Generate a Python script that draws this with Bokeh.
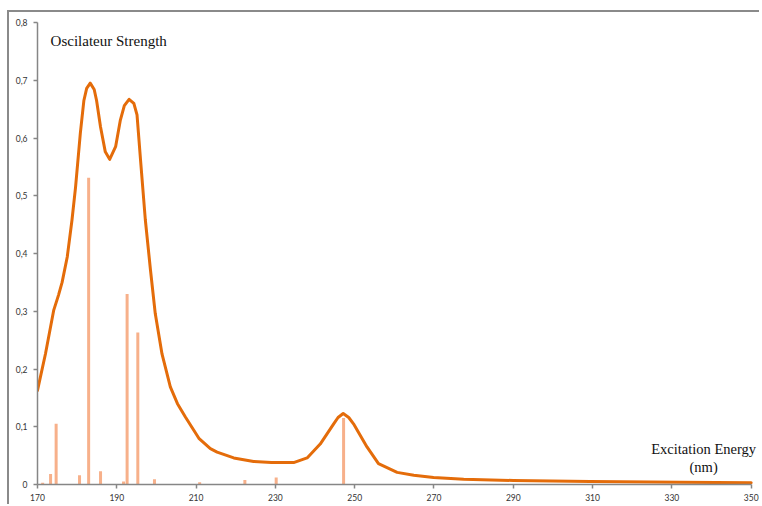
from bokeh.plotting import figure
from bokeh.models import FixedTicker, CustomJSTickFormatter, Label, ColumnDataSource, Range1d
from bokeh.embed import file_html
from bokeh.resources import INLINE

# Envelope curve (wavelength nm, oscillator strength)
curve_nm = [170.0, 172.0, 174.1, 175.3, 176.2, 177.5, 178.7, 179.6, 180.8, 181.7, 182.4,
            183.3, 184.3, 184.9, 185.9, 187.1, 188.2, 189.7, 190.9, 191.9, 193.1,
            194.3, 195.1, 196.0, 197.2, 198.5, 199.7, 201.4, 203.5, 205.3, 207.3,
            210.7, 213.6, 215.3, 219.5, 224.5, 229.0, 232.2, 234.6, 238.0, 241.3,
            244.7, 245.8, 247.1, 248.5, 249.7, 253.1, 256.0, 260.7, 264.9, 269.9,
            277.5, 290.0, 309.4, 332.0, 350.0]
curve_f = [0.163, 0.226, 0.302, 0.328, 0.350, 0.394, 0.458, 0.515, 0.608, 0.665, 0.686,
           0.695, 0.684, 0.665, 0.619, 0.576, 0.563, 0.585, 0.631, 0.656, 0.667,
           0.660, 0.640, 0.561, 0.458, 0.371, 0.296, 0.226, 0.169, 0.140, 0.117,
           0.080, 0.062, 0.056, 0.046, 0.040, 0.038, 0.038, 0.038, 0.046, 0.070,
           0.105, 0.116, 0.123, 0.116, 0.105, 0.065, 0.036, 0.021, 0.016, 0.012,
           0.009, 0.007, 0.005, 0.004, 0.003]

# Individual transitions (sticks)
stick_nm = [171.3, 173.3, 174.7, 180.6, 182.9, 185.9, 191.7, 192.6, 195.3, 199.5,
            210.9, 222.3, 230.2, 247.2]
stick_f = [0.003, 0.018, 0.105, 0.016, 0.531, 0.023, 0.005, 0.330, 0.263, 0.009,
           0.004, 0.008, 0.012, 0.115]

x_ticks = [170, 190, 210, 230, 250, 270, 290, 310, 330, 350]
y_ticks = [0, 0.1, 0.2, 0.3, 0.4, 0.5, 0.6, 0.7, 0.8]

title_text = "Oscilateur Strength"
xlabel_line1 = "Excitation Energy"
xlabel_line2 = "(nm)"

p = figure(width=752, height=494, output_backend="svg", toolbar_location=None,
           x_range=Range1d(170, 352.6), y_range=Range1d(0, 0.8),
           min_border_left=28, min_border_right=0, min_border_top=10, min_border_bottom=22)
p.styles = {"margin-top": "10px", "margin-left": "7px",
            "border-top": "2px solid #8a8a8a", "border-left": "2px solid #8a8a8a"}

p.outline_line_color = None
p.background_fill_color = "white"
p.border_fill_color = "white"
p.xgrid.visible = False
p.ygrid.visible = False

stick_src = ColumnDataSource(dict(x=stick_nm, y0=[0] * len(stick_nm), y1=stick_f))
p.segment(x0="x", y0="y0", x1="x", y1="y1", source=stick_src,
          line_color="#F7B08A", line_width=3, line_cap="butt")

curve_src = ColumnDataSource(dict(x=curve_nm, y=curve_f))
p.line(x="x", y="y", source=curve_src, line_color="#E46C0A", line_width=3,
       line_join="round", line_cap="round")

for ax in (p.xaxis[0], p.yaxis[0]):
    ax.axis_line_color = "#868686"
    ax.axis_line_width = 1.5
    ax.major_tick_line_color = "#868686"
    ax.major_tick_line_width = 1.5
    ax.major_tick_in = 0
    ax.major_tick_out = 4
    ax.minor_tick_line_color = None
    ax.major_label_text_font = "Lato"
    ax.major_label_text_font_size = "8.5px"
    ax.major_label_text_color = "#333333"

p.xaxis.bounds = (170, 350)
p.xaxis.ticker = FixedTicker(ticks=x_ticks)
p.yaxis.ticker = FixedTicker(ticks=y_ticks)
p.xaxis.major_label_standoff = 5
p.yaxis.major_label_standoff = 6
p.yaxis.formatter = CustomJSTickFormatter(
    code="return tick === 0 ? '0' : tick.toFixed(1).replace('.', ',');")

p.add_layout(Label(x=173.3, y=0.768, text=title_text, text_font="Liberation Serif",
                   text_font_size="15px", text_color="#111111",
                   text_align="left", text_baseline="middle"))
p.add_layout(Label(x=338.0, y=0.0607, text=xlabel_line1, text_font="Liberation Serif",
                   text_font_size="14.5px", text_color="#111111",
                   text_align="center", text_baseline="middle"))
p.add_layout(Label(x=338.0, y=0.030, text=xlabel_line2, text_font="Liberation Serif",
                   text_font_size="14.5px", text_color="#111111",
                   text_align="center", text_baseline="middle"))

open("out.html", "w").write(file_html(p, INLINE))
